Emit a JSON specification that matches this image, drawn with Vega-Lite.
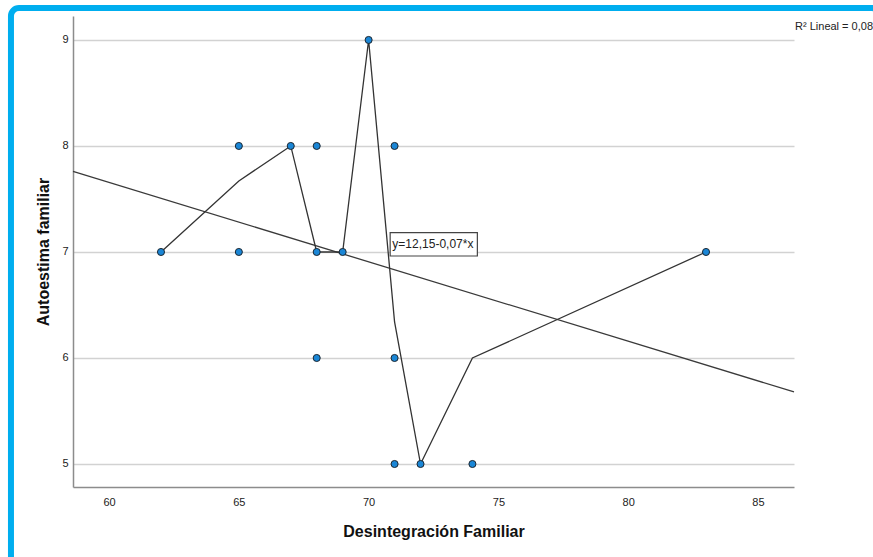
{
  "$schema": "https://vega.github.io/schema/vega-lite/v6.json",
  "width": 721,
  "height": 471,
  "autosize": {"type": "none"},
  "padding": {"left": 73, "top": 16, "right": 79, "bottom": 70},
  "background": "white",
  "config": {
    "view": {"stroke": null},
    "font": "Liberation Sans",
    "axis": {
      "labelFont": "Liberation Sans",
      "titleFont": "Liberation Sans",
      "labelColor": "#222",
      "titleColor": "#111",
      "labelFontSize": 11,
      "titleFontSize": 16,
      "titleFontWeight": "bold",
      "ticks": false,
      "domainColor": "#8c8c8c",
      "domainWidth": 1.5,
      "gridColor": "#d2d2d2",
      "gridWidth": 1.6
    }
  },
  "datasets": {
    "points": [
      {"desintegracion": 62, "autoestima": 7},
      {"desintegracion": 65, "autoestima": 8},
      {"desintegracion": 65, "autoestima": 7},
      {"desintegracion": 67, "autoestima": 8},
      {"desintegracion": 68, "autoestima": 8},
      {"desintegracion": 68, "autoestima": 7},
      {"desintegracion": 68, "autoestima": 6},
      {"desintegracion": 69, "autoestima": 7},
      {"desintegracion": 70, "autoestima": 9},
      {"desintegracion": 71, "autoestima": 8},
      {"desintegracion": 71, "autoestima": 6},
      {"desintegracion": 71, "autoestima": 5},
      {"desintegracion": 72, "autoestima": 5},
      {"desintegracion": 74, "autoestima": 5},
      {"desintegracion": 83, "autoestima": 7}
    ],
    "smooth": [
      {"desintegracion": 62, "autoestima": 7},
      {"desintegracion": 65, "autoestima": 7.67},
      {"desintegracion": 67, "autoestima": 8},
      {"desintegracion": 68, "autoestima": 7},
      {"desintegracion": 69, "autoestima": 7},
      {"desintegracion": 70, "autoestima": 9},
      {"desintegracion": 71, "autoestima": 6.34},
      {"desintegracion": 72, "autoestima": 5},
      {"desintegracion": 74, "autoestima": 6},
      {"desintegracion": 83, "autoestima": 7}
    ],
    "fit": [
      {"desintegracion": 58.61, "autoestima": 7.76},
      {"desintegracion": 86.39, "autoestima": 5.68}
    ],
    "one": [{}]
  },
  "layer": [
    {
      "data": {"name": "one"},
      "mark": {"type": "rect", "fill": null, "stroke": "#00aeef", "strokeWidth": 6, "cornerRadius": 8, "clip": false},
      "encoding": {
        "x": {"datum": 56.22, "type": "quantitative", "scale": {"domain": [58.61, 86.39], "nice": false, "zero": false}},
        "x2": {"datum": 89.7},
        "y": {"datum": 9.301, "type": "quantitative", "scale": {"domain": [4.783, 9.226], "nice": false, "zero": false}},
        "y2": {"datum": 4.0}
      }
    },
    {
      "data": {"name": "fit"},
      "mark": {"type": "line", "color": "#3a3a3a", "strokeWidth": 1.3},
      "encoding": {
        "x": {
          "field": "desintegracion", "type": "quantitative",
          "scale": {"domain": [58.61, 86.39], "nice": false, "zero": false},
          "axis": {"values": [60, 65, 70, 75, 80, 85], "grid": false, "labelPadding": 9, "title": "Desintegración Familiar", "titlePadding": 16}
        },
        "y": {
          "field": "autoestima", "type": "quantitative",
          "scale": {"domain": [4.783, 9.226], "nice": false, "zero": false},
          "axis": {"values": [5, 6, 7, 8, 9], "format": "d", "grid": true, "labelPadding": 5, "title": "Autoestima familiar", "titlePadding": 10}
        }
      }
    },
    {
      "data": {"name": "smooth"},
      "mark": {"type": "line", "color": "#333333", "strokeWidth": 1.3},
      "encoding": {
        "x": {"field": "desintegracion", "type": "quantitative"},
        "y": {"field": "autoestima", "type": "quantitative"}
      }
    },
    {
      "data": {"name": "points"},
      "mark": {"type": "point", "shape": "circle", "filled": true, "size": 50, "fill": "#1a86d6", "stroke": "#1b2630", "strokeWidth": 1, "opacity": 1},
      "encoding": {
        "x": {"field": "desintegracion", "type": "quantitative"},
        "y": {"field": "autoestima", "type": "quantitative"}
      }
    },
    {
      "data": {"name": "one"},
      "mark": {"type": "rect", "fill": "white", "stroke": "#444444", "strokeWidth": 1.2},
      "encoding": {
        "x": {"datum": 70.83, "type": "quantitative"},
        "x2": {"datum": 74.19},
        "y": {"datum": 7.182, "type": "quantitative"},
        "y2": {"datum": 6.962}
      }
    },
    {
      "data": {"name": "one"},
      "mark": {"type": "text", "text": "y=12,15-0,07*x", "align": "left", "baseline": "middle", "fontSize": 12, "color": "#222"},
      "encoding": {
        "x": {"datum": 70.915, "type": "quantitative"},
        "y": {"datum": 7.075, "type": "quantitative"}
      }
    },
    {
      "data": {"name": "one"},
      "mark": {"type": "text", "text": "R² Lineal = 0,08", "align": "left", "baseline": "middle", "fontSize": 11, "color": "#222", "clip": false},
      "encoding": {
        "x": {"datum": 86.43, "type": "quantitative"},
        "y": {"datum": 9.123, "type": "quantitative"}
      }
    }
  ]
}
